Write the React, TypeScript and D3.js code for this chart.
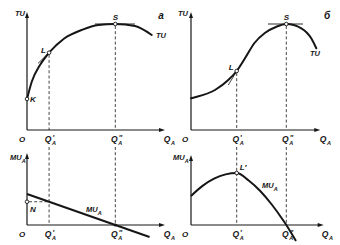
import React from 'react';
import * as d3 from 'd3';

const W = 340;
const H = 245;

// ---------- Panel "а" (left) ----------
const qA1 = 2; // Q'_A
const qA2 = 8; // Q''_A
const tuA_Q = [0, 0.43, 1.18, 2, 3.4, 4.95, 6.45, 8, 9.78, 11.3];
const tuA_V = [3.1, 4.83, 6.5, 7.73, 9.17, 10.0, 10.5, 10.6, 10.4, 9.5];
const muA_Q = [0, 11.1];
const muA_V = [3.1, -1.2];
const tanLA = { q0: 1.0, v0: 6.67, q1: 3.29, v1: 9.07 };
const tanSA = { q0: 6.16, q1: 9.78, v: 10.6 };

// ---------- Panel "б" (right) ----------
const qB1 = 3.96;
const qB2 = 8.26;
const tuB_Q = [0, 0.35, 2.08, 3.23, 3.96, 4.68, 5.5, 6.4, 7.4, 8.26, 9.56, 10.42, 10.86];
const tuB_V = [3.17, 3.27, 4.0, 5.0, 5.9, 7.17, 8.7, 9.7, 10.33, 10.6, 10.17, 9.17, 8.17];
const muB_Q = [0, 1, 2, 3, 3.96, 5, 6, 7, 8, 8.26, 9.1];
const muB_V = [2.9, 3.91, 4.63, 5.06, 5.2, 4.45, 3.4, 2.05, 0.45, 0, -1.6];
const tanLB = { q0: 3.23, v0: 4.5, q1: 4.83, v1: 7.5 };
const tanSB = { q0: 6.67, q1: 9.7, v: 10.6 };

const INK = '#161616';
const FONT = '"Liberation Sans", Arial, sans-serif';
const FW = 'bold';

const zip = (a: number[], b: number[]) => a.map((q, i) => [q, b[i]] as [number, number]);

function Arrow({ x, y, dir }: { x: number; y: number; dir: 'up' | 'right' }) {
  const pts =
    dir === 'up'
      ? `${x},${y} ${x - 2},${y + 6} ${x + 2},${y + 6}`
      : `${x},${y} ${x - 6},${y - 2} ${x - 6},${y + 2}`;
  return <polygon points={pts} fill={INK} />;
}

function QLab({ x, y, primes }: { x: number; y: number; primes: string }) {
  return (
    <g fontFamily={FONT} fontStyle="italic" fontWeight={FW} fill={INK}>
      <text x={x - 1} y={y} fontSize={8.5} textAnchor="middle">Q</text>
      <text x={x + 3} y={y + 2.5} fontSize={5.5}>A</text>
      {primes && <text x={x + 3.4} y={y - 2.5} fontSize={7}>{primes}</text>}
    </g>
  );
}

function MULab({ x, y }: { x: number; y: number }) {
  return (
    <text x={x} y={y} fontFamily={FONT} fontStyle="italic" fontWeight={FW} fontSize={7.5} fill={INK}>
      MU<tspan fontSize={5.5} dy={2.5}>A</tspan>
    </text>
  );
}

function Txt({ x, y, s, size = 7.5, anchor = 'start' }: { x: number; y: number; s: string; size?: number; anchor?: string }) {
  return (
    <text x={x} y={y} fontFamily={FONT} fontStyle="italic" fontWeight={FW} fontSize={size} fill={INK} textAnchor={anchor as any}>
      {s}
    </text>
  );
}

function Dot({ x, y }: { x: number; y: number }) {
  return <circle cx={x} cy={y} r={1.8} fill="#fff" stroke={INK} strokeWidth={0.9} />;
}

export default function App() {
  const xA = d3.scaleLinear().domain([0, 12.5]).range([27, 165]);
  const xB = d3.scaleLinear().domain([0, 11.44]).range([191, 323]);
  const yTop = d3.scaleLinear().domain([0, 11.8]).range([130, 12]);
  const yBotA = d3.scaleLinear().domain([0, 7.2]).range([225, 153]);
  const yBotB = d3.scaleLinear().domain([0, 7.0]).range([225, 155]);

  const lineTA = d3.line<[number, number]>().x(d => xA(d[0])).y(d => yTop(d[1])).curve(d3.curveMonotoneX);
  const lineTB = d3.line<[number, number]>().x(d => xB(d[0])).y(d => yTop(d[1])).curve(d3.curveMonotoneX);
  const lineBA = d3.line<[number, number]>().x(d => xA(d[0])).y(d => yBotA(d[1]));
  const lineBB = d3.line<[number, number]>().x(d => xB(d[0])).y(d => yBotB(d[1])).curve(d3.curveMonotoneX);

  const tuAat = (q: number) => tuA_V[tuA_Q.indexOf(q)];
  const tuBat = (q: number) => tuB_V[tuB_Q.indexOf(q)];
  const muAat = (q: number) => muA_V[0] + ((muA_V[1] - muA_V[0]) * (q - muA_Q[0])) / (muA_Q[1] - muA_Q[0]);
  const muBat = (q: number) => muB_V[muB_Q.indexOf(q)];

  const axisW = 1.2;
  const dash = '3,2.2';
  const dashW = 0.8;

  const LA = { x: xA(qA1), y: yTop(tuAat(qA1)) };
  const SA = { x: xA(qA2), y: yTop(tuAat(qA2)) };
  const KA = { x: xA(0), y: yTop(tuA_V[0]) };
  const LB = { x: xB(qB1), y: yTop(tuBat(qB1)) };
  const SB = { x: xB(qB2), y: yTop(tuBat(qB2)) };
  const NA = { x: xA(0), y: yBotA(muAat(qA1)) };
  const ZA = { x: xA(qA2), y: yBotA(0) };
  const LpB = { x: xB(qB1), y: yBotB(muBat(qB1)) };

  return (
    <svg
      width={W}
      height={H}
      viewBox={`0 0 ${W} ${H}`}
      style={{ position: 'absolute', left: 0, top: 0, background: '#fff' }}
    >
      <rect x={0} y={0} width={W} height={H} fill="#fff" />

      {/* ================= LEFT TOP ================= */}
      <g stroke={INK} fill="none">
        <line x1={xA(0)} y1={yTop(0)} x2={xA(0)} y2={yTop(11.8) + 4} strokeWidth={axisW} />
        <line x1={xA(0)} y1={yTop(0)} x2={xA(12.5) - 4} y2={yTop(0)} strokeWidth={axisW} />
        <line x1={LA.x} y1={LA.y + 2} x2={LA.x} y2={yTop(0)} strokeWidth={dashW} strokeDasharray={dash} />
        <line x1={SA.x} y1={SA.y + 2} x2={SA.x} y2={yTop(0)} strokeWidth={dashW} strokeDasharray={dash} />
        <line x1={xA(tanLA.q0)} y1={yTop(tanLA.v0)} x2={xA(tanLA.q1)} y2={yTop(tanLA.v1)} strokeWidth={0.8} />
        <line x1={xA(tanSA.q0)} y1={yTop(tanSA.v)} x2={xA(tanSA.q1)} y2={yTop(tanSA.v)} strokeWidth={0.9} />
        <path d={lineTA(zip(tuA_Q, tuA_V)) || ''} strokeWidth={2} strokeLinecap="round" />
      </g>
      <Arrow x={xA(0)} y={yTop(11.8)} dir="up" />
      <Arrow x={xA(12.5)} y={yTop(0)} dir="right" />
      <Dot x={KA.x} y={KA.y} />
      <Dot x={LA.x} y={LA.y} />
      <Dot x={SA.x} y={SA.y} />
      <Txt x={15} y={16} s="TU" />
      <Txt x={156} y={38} s="TU" />
      <Txt x={161} y={19} s="а" size={10} anchor="middle" />
      <Txt x={SA.x} y={20} s="S" size={8} anchor="middle" />
      <Txt x={LA.x - 8} y={LA.y} s="L" size={8} />
      <Txt x={KA.x + 3} y={KA.y + 3} s="K" size={8} />
      <Txt x={22} y={142} s="O" size={8} anchor="middle" />
      <QLab x={LA.x} y={142} primes="′" />
      <QLab x={SA.x} y={142} primes="″" />
      <QLab x={168} y={142} primes="" />

      {/* ================= LEFT BOTTOM ================= */}
      <g stroke={INK} fill="none">
        <line x1={xA(0)} y1={yBotA(0)} x2={xA(0)} y2={yBotA(7.2) + 4} strokeWidth={axisW} />
        <line x1={xA(0)} y1={yBotA(0)} x2={xA(12.5) - 4} y2={yBotA(0)} strokeWidth={axisW} />
        <line x1={LA.x} y1={147} x2={LA.x} y2={yBotA(0)} strokeWidth={dashW} strokeDasharray={dash} />
        <line x1={SA.x} y1={147} x2={SA.x} y2={yBotA(0)} strokeWidth={dashW} strokeDasharray={dash} />
        <line x1={NA.x + 2} y1={NA.y} x2={LA.x} y2={NA.y} strokeWidth={dashW} strokeDasharray={dash} />
        <path d={lineBA(zip(muA_Q, muA_V)) || ''} strokeWidth={2} />
      </g>
      <Arrow x={xA(0)} y={yBotA(7.2)} dir="up" />
      <Arrow x={xA(12.5)} y={yBotA(0)} dir="right" />
      <Dot x={NA.x} y={NA.y} />
      <circle cx={ZA.x} cy={ZA.y} r={1.6} fill={INK} />
      <MULab x={10} y={160} />
      <MULab x={86} y={212} />
      <Txt x={30} y={212} s="N" size={8} />
      <Txt x={22} y={237} s="O" size={8} anchor="middle" />
      <QLab x={LA.x} y={237} primes="′" />
      <QLab x={SA.x} y={237} primes="″" />
      <QLab x={168} y={237} primes="" />

      {/* ================= RIGHT TOP ================= */}
      <g stroke={INK} fill="none">
        <line x1={xB(0)} y1={yTop(0)} x2={xB(0)} y2={yTop(11.8) + 4} strokeWidth={axisW} />
        <line x1={xB(0)} y1={yTop(0)} x2={xB(11.2) - 4} y2={yTop(0)} strokeWidth={axisW} />
        <line x1={LB.x} y1={LB.y + 2} x2={LB.x} y2={yTop(0)} strokeWidth={dashW} strokeDasharray={dash} />
        <line x1={SB.x} y1={SB.y + 2} x2={SB.x} y2={yTop(0)} strokeWidth={dashW} strokeDasharray={dash} />
        <line x1={xB(tanLB.q0)} y1={yTop(tanLB.v0)} x2={xB(tanLB.q1)} y2={yTop(tanLB.v1)} strokeWidth={0.8} />
        <line x1={xB(tanSB.q0)} y1={yTop(tanSB.v)} x2={xB(tanSB.q1)} y2={yTop(tanSB.v)} strokeWidth={0.9} />
        <path d={lineTB(zip(tuB_Q, tuB_V)) || ''} strokeWidth={2} strokeLinecap="round" />
      </g>
      <Arrow x={xB(0)} y={yTop(11.8)} dir="up" />
      <Arrow x={xB(11.2)} y={yTop(0)} dir="right" />
      <Dot x={LB.x} y={LB.y} />
      <Dot x={SB.x} y={SB.y} />
      <Txt x={178} y={16} s="TU" />
      <Txt x={310} y={56} s="TU" />
      <Txt x={327} y={19} s="б" size={10} anchor="middle" />
      <Txt x={SB.x} y={20} s="S" size={8} anchor="middle" />
      <Txt x={LB.x - 8} y={LB.y - 1} s="L" size={8} />
      <Txt x={185} y={142} s="O" size={8} anchor="middle" />
      <QLab x={LB.x} y={142} primes="′" />
      <QLab x={SB.x} y={142} primes="″" />
      <QLab x={324} y={142} primes="" />

      {/* ================= RIGHT BOTTOM ================= */}
      <g stroke={INK} fill="none">
        <line x1={xB(0)} y1={yBotB(0)} x2={xB(0)} y2={yBotB(7.0) + 4} strokeWidth={axisW} />
        <line x1={xB(0)} y1={yBotB(0)} x2={xB(11.5) - 4} y2={yBotB(0)} strokeWidth={axisW} />
        <line x1={LB.x} y1={147} x2={LB.x} y2={yBotB(0)} strokeWidth={dashW} strokeDasharray={dash} />
        <line x1={SB.x} y1={147} x2={SB.x} y2={yBotB(0)} strokeWidth={dashW} strokeDasharray={dash} />
        <path d={lineBB(zip(muB_Q, muB_V)) || ''} strokeWidth={2} />
      </g>
      <Arrow x={xB(0)} y={yBotB(7.0)} dir="up" />
      <Arrow x={xB(11.5)} y={yBotB(0)} dir="right" />
      <Dot x={LpB.x} y={LpB.y} />
      <MULab x={173} y={160} />
      <MULab x={262} y={188} />
      <Txt x={LpB.x + 3} y={LpB.y - 3} s="L′" size={8} />
      <Txt x={185} y={237} s="O" size={8} anchor="middle" />
      <QLab x={LB.x} y={237} primes="′" />
      <QLab x={SB.x} y={237} primes="″" />
      <QLab x={326} y={237} primes="" />
    </svg>
  );
}
